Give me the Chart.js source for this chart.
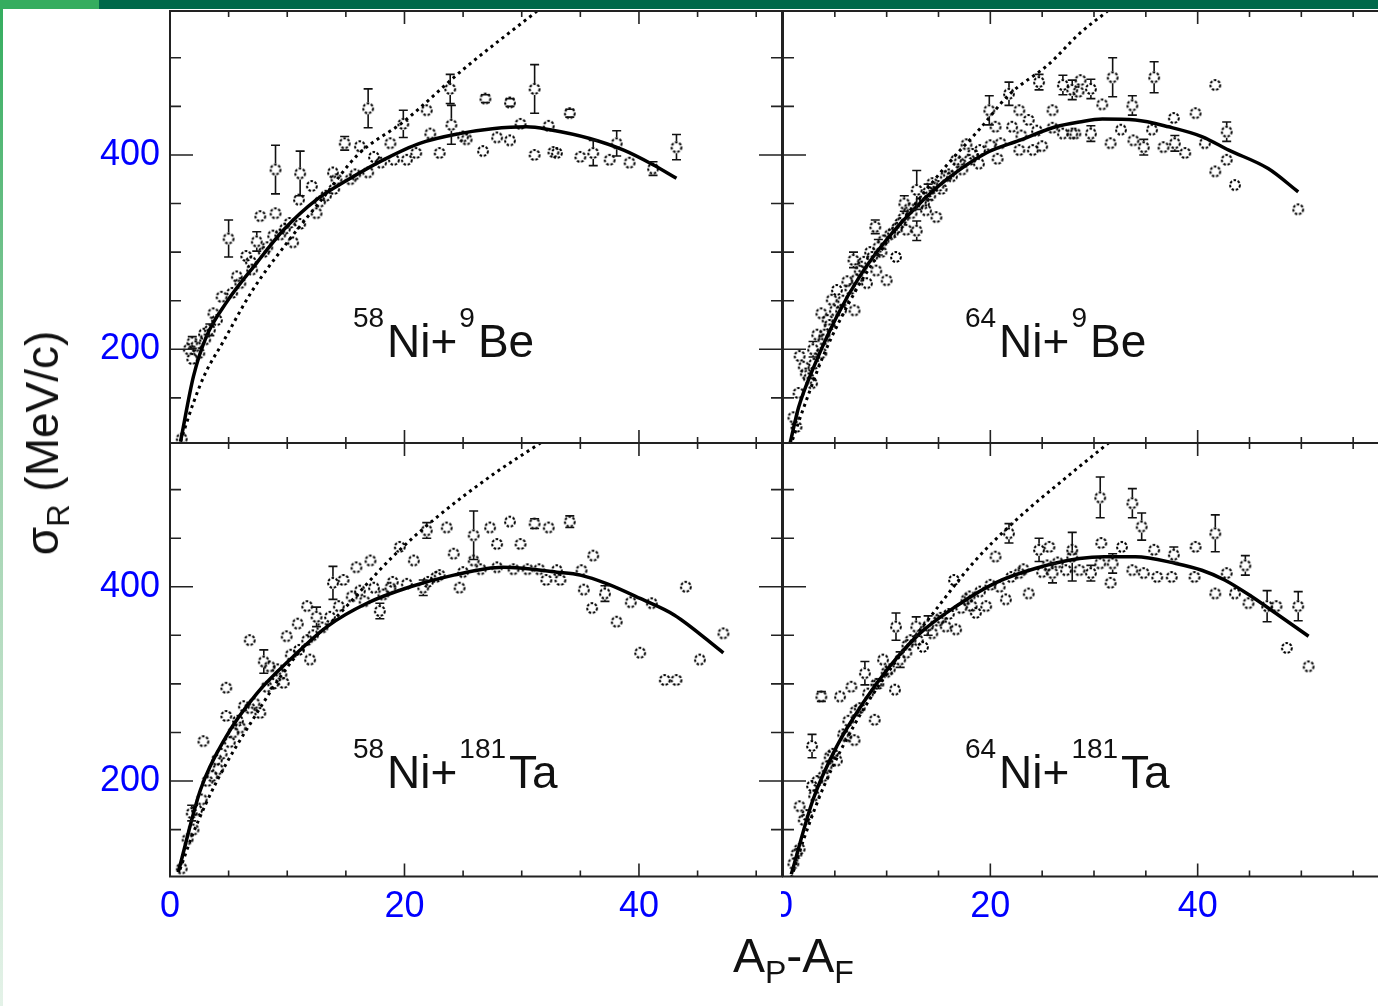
<!DOCTYPE html>
<html>
<head>
<meta charset="utf-8">
<script src="https://cdn.jsdelivr.net/npm/chart.js@4/dist/chart.umd.min.js"></script>
<style>
  body { margin: 0; width: 1378px; height: 1006px; overflow: hidden; background: #fff; position: relative;
         font-family: "Liberation Sans", Arial, sans-serif; }
  canvas { position: absolute; }
  .bar { position: absolute; top: 0; height: 9px; }
  #strip { position: absolute; left: 0; top: 9px; width: 3px; height: 997px;
           background: linear-gradient(#35ad5f, #9fd2ae 45%, #e4f2e8); }
  .title { position: absolute; line-height: 1; white-space: nowrap; color: #111; }
  .title sub { vertical-align: -11px; line-height: 0; }
  #ytitle { font-size: 46px; left: 42px; top: 443px; transform: translate(-50%, -50%) rotate(-90deg); }
  #ytitle sub { font-size: 31px; }
  #xtitle { font-size: 48px; left: 733px; top: 932px; }
  #xtitle sub { font-size: 32px; }
</style>
</head>
<body>
<div class="bar" style="left:0;width:99px;background:#35ad5f"></div>
<div class="bar" style="left:99px;width:1279px;background:#00684a"></div>
<div id="strip"></div>

<canvas id="tl" width="792" height="448" style="left:0;top:0"></canvas>
<canvas id="tr" width="634" height="448" style="left:781px;top:0"></canvas>
<canvas id="bl" width="792" height="568" style="left:0;top:438px"></canvas>
<canvas id="br" width="634" height="568" style="left:781px;top:438px"></canvas>

<div class="title" id="ytitle">σ<sub>R</sub> (MeV/c)</div>
<div class="title" id="xtitle">A<sub>P</sub>-A<sub>F</sub></div>

<script>
// tick values
const xTickVals = [0, 5, 10, 15, 20, 25, 30, 35, 40, 45, 50, 55, 60];
const xLabelVals = [0, 20, 40];
const yTickVals = [150, 200, 250, 300, 350, 400, 450, 500];
const yLabelVals = [200, 400];

// reaction labels
const projMass = ['58', '64', '58', '64'];
const targetMass = ['9', '9', '181', '181'];
const targetSym = ['Be', 'Be', 'Ta', 'Ta'];

// 58Ni + 9Be
const ni58BeA = [1.0, 1.6, 1.9, 1.9, 2.5, 2.9, 3.4, 3.7, 4.4, 5.0, 5.7, 6.5, 6.9, 7.4, 7.7, 8.0, 8.8, 9.0, 9.0, 9.8,
  10.5, 11.0, 11.1, 11.1, 12.1, 12.5, 13.3, 13.9, 14.2, 14.9, 15.4, 16.2, 16.9, 16.9, 17.4, 18.8, 19.1, 19.9, 20.2, 21.0,
  21.9, 22.2, 23.0, 23.9, 24.0, 25.0, 25.3, 26.7, 26.9, 27.9, 29.0, 29.0, 29.9, 31.1, 31.1, 32.3, 32.7, 33.0, 34.1, 35.0,
  36.1, 37.5, 38.1, 39.2, 41.2, 43.2,
  2.2, 3.0, 4.0, 5.3, 6.0, 7.0, 8.3, 9.4, 10.2, 12.8, 14.0, 15.8, 18.0];
const ni58BeSig = [108, 200, 207, 190, 196, 216, 220, 237, 254, 314, 275, 296, 290, 311, 337, 300, 317, 385, 340, 324,
  310, 354, 381, 329, 368, 340, 358, 382, 375, 412, 375, 409, 448, 382, 398, 412, 395, 432, 395, 402,
  446, 422, 402, 468, 431, 419, 416, 404, 458, 418, 454, 415, 432, 468, 400, 430, 403, 402, 443, 398,
  402, 395, 412, 392, 386, 408,
  203, 210, 230, 258, 268, 282, 305, 318, 330, 352, 365, 380, 392];
const ni58BeErr = [0, 0, 6, 0, 0, 0, 6, 0, 0, 19, 0, 0, 0, 10, 0, 0, 0, 25, 0, 0,
  0, 0, 23, 0, 0, 0, 0, 0, 0, 7, 0, 0, 20, 0, 0, 0, 0, 14, 0, 0,
  0, 0, 0, 15, 20, 0, 0, 0, 4, 0, 4, 0, 0, 25, 0, 0, 0, 0, 4, 0,
  13, 0, 13, 0, 7, 13,
  0, 0, 0, 0, 0, 0, 0, 0, 0, 0, 0, 0, 0];
const ni58BeFitA = [0.9, 2.0, 3.1, 4.8, 7.4, 9.7, 12.5, 15.1, 18.2, 21.3, 24.7, 27.5, 30.4, 32.4, 35.8, 38.7, 41.2, 43.2];
const ni58BeFit = [105, 172, 213, 248, 289, 323, 354, 374, 395, 412, 422, 427, 429, 426, 417, 405, 390, 376];
const ni58BeRefA = [0.9, 2.0, 3.0, 4.5, 7.0, 10.0, 13.0, 16.0, 20.0, 25.0, 31.3];
const ni58BeRef = [105, 145, 175, 207, 260, 310, 355, 400, 435, 488, 548];

// 64Ni + 9Be
const ni64BeA = [1.0, 1.5, 1.6, 2.0, 2.2, 2.8, 2.9, 3.3, 3.7, 3.7, 3.9, 4.3, 4.7, 5.2, 5.6, 6.2, 6.8, 6.9, 7.4, 7.8,
  8.1, 8.4, 8.9, 9.0, 9.5, 9.7, 10.0, 10.6, 10.9, 11.3, 11.7, 11.9, 12.2, 12.9, 12.9, 13.3, 13.8, 14.2, 14.4, 14.8,
  15.3, 15.7, 16.3, 16.7, 17.3, 17.7, 18.3, 18.9, 19.9, 20.5, 20.7, 21.8, 22.1, 22.8, 22.8, 23.7, 24.1, 24.7, 25.0, 26.0,
  27.0, 27.0, 27.9, 27.9, 28.2, 28.5, 28.7, 29.7, 29.7, 30.8, 31.6, 31.8, 32.6, 33.7, 33.8, 34.8, 35.6, 35.8, 36.7, 37.7,
  37.8, 38.8, 39.8, 40.7, 41.7, 41.7, 42.8, 42.8, 43.6, 49.7,
  1.3, 2.5, 3.0, 4.0, 4.5, 5.0, 5.8, 6.5, 7.1, 7.6, 8.6, 9.2, 10.3, 11.0, 11.6, 12.4, 13.6, 14.0, 15.0, 16.0,
  17.0, 18.0, 19.0, 20.0, 21.0, 23.0, 24.5, 26.0];
const ni64BeSig = [130, 155, 193, 182, 175, 165, 200, 215, 196, 237, 210, 230, 251, 261, 240, 270, 292, 240, 281, 290,
  268, 300, 326, 281, 300, 312, 271, 320, 295, 330, 350, 323, 345, 364, 322, 352, 343, 358, 371, 336,
  365, 378, 378, 395, 385, 411, 401, 391, 446, 429, 396, 463, 429, 446, 405, 436, 405, 475, 409, 446,
  472, 422, 422, 467, 422, 465, 477, 468, 422, 452, 412, 480, 426, 451, 415, 408, 426, 480, 408, 438,
  412, 402, 443, 412, 472, 383, 424, 395, 369, 344,
  120, 170, 185, 215, 225, 240, 250, 262, 272, 285, 295, 305, 318, 325, 335, 340, 350, 362, 368, 380,
  392, 395, 405, 410, 412, 420, 425, 428];
const ni64BeErr = [0, 0, 0, 0, 0, 0, 8, 0, 0, 0, 0, 0, 0, 0, 0, 0, 8, 0, 0, 0,
  0, 0, 7, 0, 0, 0, 0, 0, 0, 0, 8, 0, 0, 20, 10, 0, 0, 0, 0, 0,
  0, 0, 0, 0, 0, 0, 0, 0, 15, 0, 0, 12, 0, 0, 0, 0, 0, 8, 0, 0,
  10, 0, 0, 10, 0, 0, 0, 10, 8, 0, 0, 20, 0, 10, 0, 8, 0, 16, 0, 0,
  8, 0, 0, 0, 0, 0, 10, 0, 0, 0,
  0, 0, 0, 0, 0, 0, 0, 0, 0, 0, 0, 8, 0, 0, 0, 0, 0, 8, 0, 0,
  0, 0, 0, 0, 0, 0, 0, 0];
const ni64BeFitA = [0.7, 1.5, 2.9, 5.2, 7.4, 10.0, 12.9, 15.7, 19.6, 22.8, 26.3, 28.6, 30.8, 34.0, 37.2, 40.4, 43.0, 46.8, 49.7];
const ni64BeFit = [104, 140, 180, 234, 275, 313, 347, 374, 402, 415, 429, 434, 437, 436, 429, 419, 405, 386, 362];
const ni64BeRefA = [0.7, 2.0, 4.0, 7.0, 10.0, 13.0, 16.0, 19.0, 21.8, 25.7, 28.6, 31.3];
const ni64BeRef = [100, 140, 196, 260, 310, 353, 392, 427, 462, 494, 525, 548];

// 58Ni + 181Ta
const ni58TaA = [1.0, 1.85, 2.0, 2.7, 2.85, 3.2, 4.0, 4.1, 4.8, 4.8, 5.4, 5.8, 6.3, 6.8, 6.8, 7.7, 8.0, 8.25, 8.5, 9.2,
  9.7, 9.95, 10.3, 10.9, 11.7, 11.7, 11.95, 12.5, 13.65, 13.9, 14.4, 14.8, 15.5, 15.9, 16.2, 17.1, 17.4, 17.9, 18.8, 19.0,
  19.6, 20.2, 20.8, 21.6, 21.9, 22.7, 23.0, 23.6, 24.2, 24.7, 25.9, 25.9, 26.5, 27.3, 27.9, 27.9, 29.0, 29.3, 29.9, 31.1,
  32.1, 32.3, 33.0, 33.3, 34.1, 35.1, 35.3, 36.0, 36.1, 37.1, 38.1, 39.3, 40.1, 41.1, 42.2, 43.2, 44.0, 45.2, 47.2,
  1.5, 2.3, 3.6, 4.4, 5.1, 6.0, 7.2, 8.8, 9.5, 11.0, 12.2, 13.0, 16.6, 18.2, 22.0, 25.0, 30.5, 31.5];
const ni58TaSig = [110, 167, 150, 181, 241, 200, 222, 212, 296, 267, 250, 262, 277, 345, 275, 270, 323, 297, 318, 315,
  301, 349, 330, 362, 380, 345, 325, 369, 369, 404, 380, 407, 390, 420, 396, 427, 399, 375, 399, 405,
  441, 403, 427, 399, 458, 410, 412, 461, 434, 399, 453, 427, 418, 461, 444, 420, 467, 418, 444, 465,
  407, 461, 417, 407, 467, 417, 397, 378, 432, 393, 364, 384, 332, 383, 304, 304, 400, 325, 352,
  140, 170, 205, 228, 240, 255, 280, 300, 310, 335, 350, 358, 385, 392, 405, 415, 418, 418];
const ni58TaErr = [0, 8, 0, 0, 0, 0, 0, 0, 0, 0, 0, 0, 0, 0, 0, 0, 12, 0, 0, 0,
  0, 0, 0, 0, 0, 0, 0, 10, 0, 17, 0, 0, 0, 0, 0, 0, 0, 8, 0, 0,
  0, 0, 0, 8, 8, 0, 0, 0, 0, 0, 25, 0, 0, 0, 0, 0, 0, 0, 0, 5,
  0, 0, 0, 0, 6, 0, 0, 0, 0, 8, 0, 0, 0, 0, 0, 0, 0, 0, 0,
  0, 0, 0, 0, 0, 0, 0, 0, 0, 0, 0, 0, 0, 0, 0, 0, 0, 0];
const ni58TaFitA = [0.7, 2.6, 4.8, 7.4, 10.5, 13.4, 16.8, 20.5, 24.2, 28.4, 33.0, 35.0, 37.3, 40.1, 43.0, 47.2];
const ni58TaFit = [106, 191, 246, 290, 328, 359, 383, 400, 412, 420, 415, 412, 403, 388, 371, 332];
const ni58TaRefA = [0.85, 2.0, 4.0, 7.0, 10.5, 14.2, 19.0, 22.8, 27.6, 31.6];
const ni58TaRef = [109, 147, 200, 262, 325, 369, 431, 472, 516, 548];

// 64Ni + 181Ta
const ni64TaA = [1.0, 1.6, 1.6, 2.0, 2.8, 2.8, 3.3, 3.7, 3.9, 4.5, 5.2, 5.5, 6.1, 6.6, 6.9, 7.4, 7.9, 8.85, 9.2, 9.65,
  10.3, 10.8, 10.9, 11.9, 12.3, 12.85, 13.5, 14.4, 15.0, 15.7, 16.5, 16.7, 17.7, 18.2, 18.6, 19.6, 20.5, 20.9, 21.5, 21.8,
  22.8, 23.7, 24.7, 25.0, 25.7, 26.0, 27.3, 27.9, 27.9, 28.6, 29.7, 30.6, 30.6, 30.7, 31.6, 31.8, 32.7, 33.7, 33.7, 34.6,
  34.8, 35.8, 36.1, 37.5, 37.7, 39.7, 39.8, 41.7, 41.7, 42.8, 43.6, 44.6, 44.9, 46.7, 47.6, 48.6, 49.7, 50.7,
  1.3, 2.3, 3.0, 4.2, 4.8, 5.8, 6.3, 7.0, 8.2, 9.0, 10.0, 11.3, 12.0, 13.0, 14.0, 15.2, 16.0, 17.2, 18.0, 19.0,
  20.0, 22.0, 23.2, 25.5, 26.5];
const ni64TaSig = [115, 130, 174, 160, 195, 236, 200, 287, 205, 225, 221, 287, 246, 297, 242, 275, 311, 263, 300, 325,
  315, 294, 359, 332, 345, 359, 338, 352, 365, 359, 407, 356, 387, 380, 373, 380, 431, 400, 387, 455,
  414, 393, 438, 415, 441, 414, 417, 438, 431, 417, 414, 492, 424, 445, 404, 424, 441, 486, 417, 462,
  414, 438, 410, 410, 433, 410, 441, 455, 393, 414, 393, 422, 383, 380, 380, 337, 380, 318,
  125, 165, 185, 215, 228, 248, 262, 272, 290, 300, 312, 325, 340, 345, 360, 368, 372, 378, 390, 395,
  402, 410, 418, 422, 425];
const ni64TaErr = [0, 0, 0, 0, 0, 12, 0, 5, 0, 0, 0, 0, 0, 0, 0, 0, 12, 0, 0, 0,
  0, 0, 14, 0, 0, 10, 0, 0, 0, 0, 0, 0, 0, 0, 0, 0, 0, 0, 0, 10,
  0, 0, 12, 0, 0, 10, 0, 0, 25, 0, 8, 21, 0, 0, 0, 10, 0, 15, 0, 14,
  0, 0, 0, 0, 8, 0, 0, 19, 0, 0, 0, 10, 0, 16, 0, 0, 15, 0,
  0, 0, 0, 0, 0, 0, 0, 0, 0, 0, 0, 8, 0, 0, 10, 0, 0, 0, 0, 0,
  0, 0, 0, 0, 0];
const ni64TaFitA = [0.8, 2.9, 5.2, 7.7, 10.3, 13.2, 16.7, 20.5, 24.4, 28.6, 31.0, 34.0, 37.9, 40.4, 42.6, 45.2, 47.5, 50.7];
const ni64TaFit = [104, 181, 236, 280, 318, 352, 380, 404, 419, 429, 431, 431, 424, 417, 407, 390, 373, 349];
const ni64TaRefA = [0.8, 2.0, 4.0, 7.0, 10.0, 14.5, 18.3, 22.1, 27.6, 31.4];
const ni64TaRef = [100, 140, 196, 260, 310, 373, 424, 465, 515, 548];

Chart.defaults.font.family = '"Liberation Sans", Arial, sans-serif';

const pts = (xs, ys) => xs.map((x, i) => ({ x, y: ys[i] }));

// small open dashed ring used for every measurement
function ringMarker() {
  const c = document.createElement('canvas');
  c.width = 14; c.height = 14;
  const g = c.getContext('2d');
  g.strokeStyle = '#000';
  g.lineWidth = 2;
  g.setLineDash([2.6, 1.6]);
  g.beginPath();
  g.arc(7, 7, 4.9, 0, Math.PI * 2);
  g.stroke();
  return c;
}
const ring = ringMarker();

// frame and inward ticks on all four sides
const frame = {
  id: 'frame',
  afterDatasetsDraw(chart) {
    const { ctx, chartArea: a, scales: { x, y } } = chart;
    ctx.save();
    ctx.strokeStyle = '#222';
    ctx.lineWidth = 2;
    ctx.strokeRect(a.left, a.top, a.right - a.left, a.bottom - a.top);
    ctx.lineWidth = 1.6;
    ctx.beginPath();
    xTickVals.filter(v => v >= x.min && v <= x.max).forEach(v => {
      const px = x.getPixelForValue(v);
      const len = xLabelVals.includes(v) ? 13 : 6;
      ctx.moveTo(px, a.top); ctx.lineTo(px, a.top + len);
      ctx.moveTo(px, a.bottom); ctx.lineTo(px, a.bottom - len);
    });
    yTickVals.filter(v => v >= y.min && v <= y.max).forEach(v => {
      const py = y.getPixelForValue(v);
      const len = yLabelVals.includes(v) ? 23 : 11;
      ctx.moveTo(a.left, py); ctx.lineTo(a.left + len, py);
      ctx.moveTo(a.right, py); ctx.lineTo(a.right - len, py);
    });
    ctx.stroke();
    ctx.restore();
  }
};

// vertical error bars with caps
const errorBars = {
  id: 'errorBars',
  afterDatasetsDraw(chart) {
    const { ctx, scales: { x, y } } = chart;
    chart.data.datasets.forEach(ds => {
      if (!ds.errs) return;
      ctx.save();
      ctx.strokeStyle = '#111';
      ctx.lineWidth = 1.6;
      ctx.beginPath();
      ds.data.forEach((p, i) => {
        const e = ds.errs[i];
        if (!e) return;
        const px = x.getPixelForValue(p.x);
        const top = y.getPixelForValue(p.y + e);
        const bot = y.getPixelForValue(p.y - e);
        const mid = y.getPixelForValue(p.y);
        if (mid - top > 6) {
          ctx.moveTo(px, top); ctx.lineTo(px, mid - 6);
          ctx.moveTo(px, mid + 6); ctx.lineTo(px, bot);
        }
        ctx.moveTo(px - 4.5, top); ctx.lineTo(px + 4.5, top);
        ctx.moveTo(px - 4.5, bot); ctx.lineTo(px + 4.5, bot);
      });
      ctx.stroke();
      ctx.restore();
    });
  }
};

// reaction name with superscript mass numbers
const reaction = {
  id: 'reaction',
  afterDraw(chart, args, o) {
    const { ctx, scales: { x, y } } = chart;
    let px = x.getPixelForValue(o.at[0]);
    const py = y.getPixelForValue(o.at[1]);
    ctx.save();
    ctx.fillStyle = '#111';
    ctx.textBaseline = 'alphabetic';
    ctx.textAlign = 'left';
    o.parts.forEach(([t, sup], i) => {
      ctx.font = (sup ? '28px' : '46px') + ' "Liberation Sans", Arial, sans-serif';
      if (sup && i > 0) px += 2;
      ctx.fillText(t, px, sup ? py - 30 : py);
      px += ctx.measureText(t).width + (sup ? 3 : 0);
    });
    ctx.restore();
  }
};

function panel(id, k, d, g) {
  return new Chart(document.getElementById(id), {
    type: 'scatter',
    data: {
      datasets: [
        { data: pts(d.a, d.sig), errs: d.err, pointStyle: ring, pointRadius: 6, borderWidth: 0 },
        { data: pts(d.fitA, d.fit), showLine: true, pointRadius: 0, borderColor: '#000', borderWidth: 3.5,
          cubicInterpolationMode: 'monotone', fill: false },
        { data: pts(d.refA, d.ref), showLine: true, pointRadius: 0, borderColor: '#000', borderWidth: 3,
          borderDash: [3, 4], cubicInterpolationMode: 'monotone', fill: false }
      ]
    },
    options: {
      responsive: false,
      animation: false,
      events: [],
      layout: { padding: g.pad, autoPadding: false },
      plugins: {
        legend: { display: false },
        tooltip: { enabled: false },
        reaction: {
          at: g.labelAt,
          parts: [[projMass[k], true], ['Ni+', false], [targetMass[k], true], [targetSym[k], false]]
        }
      },
      scales: {
        x: {
          type: 'linear', min: 0, max: g.xMax,
          grid: { display: false, drawTicks: false }, border: { display: false },
          ticks: { display: g.xLabels, padding: 9, color: '#0000ff', font: { size: 36 }, maxRotation: 0, autoSkip: false },
          afterBuildTicks: s => { s.ticks = xLabelVals.map(v => ({ value: v })); },
          afterFit: s => { s.height = g.xH; s.paddingLeft = 0; s.paddingRight = 0; }
        },
        y: {
          type: 'linear', min: g.yMin, max: g.yMax,
          grid: { display: false, drawTicks: false }, border: { display: false },
          ticks: { display: g.yLabels, padding: 10, color: '#0000ff', font: { size: 36 }, autoSkip: false },
          afterBuildTicks: s => { s.ticks = yLabelVals.map(v => ({ value: v })); },
          afterFit: s => { s.width = g.yW; s.paddingTop = 0; s.paddingBottom = 0; }
        }
      }
    },
    plugins: [errorBars, frame, reaction]
  });
}

panel('tl', 0,
  { a: ni58BeA, sig: ni58BeSig, err: ni58BeErr, fitA: ni58BeFitA, fit: ni58BeFit, refA: ni58BeRefA, ref: ni58BeRef },
  { pad: { left: 0, top: 11, right: 10, bottom: 5 }, xMax: 52.2, yMin: 103.5, yMax: 548.2,
    xH: 0, yW: 170, xLabels: false, yLabels: true, labelAt: [15.6, 192.5] });
panel('tr', 1,
  { a: ni64BeA, sig: ni64BeSig, err: ni64BeErr, fitA: ni64BeFitA, fit: ni64BeFit, refA: ni64BeRefA, ref: ni64BeRef },
  { pad: { left: 0, top: 11, right: 10, bottom: 5 }, xMax: 60, yMin: 103.5, yMax: 548.2,
    xH: 0, yW: 2, xLabels: false, yLabels: false, labelAt: [17.55, 192.5] });
panel('bl', 2,
  { a: ni58TaA, sig: ni58TaSig, err: ni58TaErr, fitA: ni58TaFitA, fit: ni58TaFit, refA: ni58TaRefA, ref: ni58TaRef },
  { pad: { left: 0, top: 5, right: 10, bottom: 0 }, xMax: 52.2, yMin: 101.7, yMax: 548,
    xH: 129.5, yW: 170, xLabels: true, yLabels: true, labelAt: [15.6, 192.5] });
panel('br', 3,
  { a: ni64TaA, sig: ni64TaSig, err: ni64TaErr, fitA: ni64TaFitA, fit: ni64TaFit, refA: ni64TaRefA, ref: ni64TaRef },
  { pad: { left: 0, top: 5, right: 10, bottom: 0 }, xMax: 60, yMin: 101.7, yMax: 548,
    xH: 129.5, yW: 2, xLabels: true, yLabels: false, labelAt: [17.55, 192.5] });
</script>
</body>
</html>
